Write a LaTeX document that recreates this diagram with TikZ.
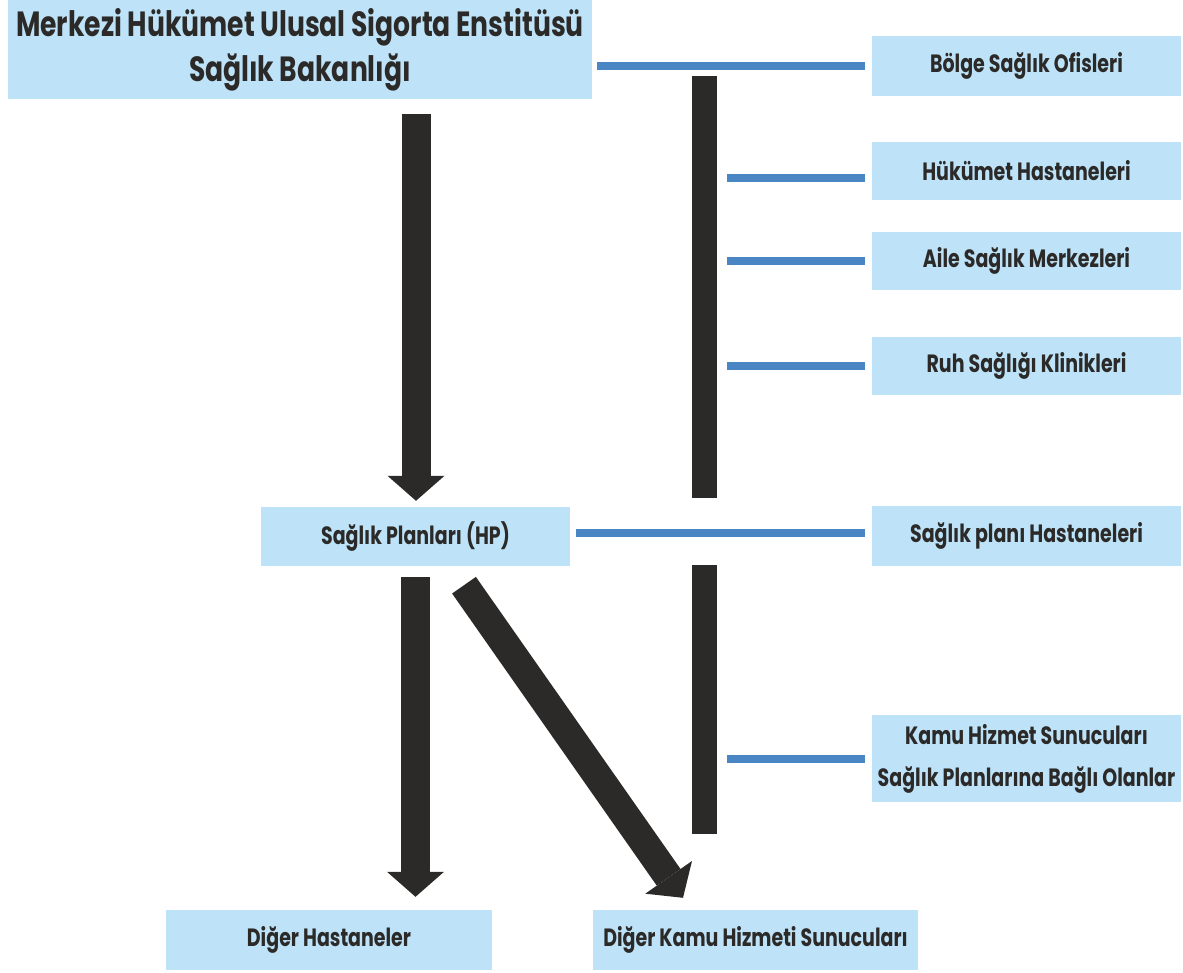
\documentclass[tikz,border=0pt]{standalone}
\usepackage{fontspec}
\setmainfont{Poppins}[FakeStretch=0.76]
\usetikzlibrary{arrows.meta,calc}

\definecolor{boxblue}{HTML}{BEE3F8}
\definecolor{linkblue}{HTML}{4A86C4}
\definecolor{ink}{HTML}{2B2A28}

\tikzset{
  unit/.style={fill=boxblue, draw=none, inner sep=0pt, align=center,
    text=ink, font=\bfseries\fontsize{25}{40}\selectfont},
  sidebox/.style={unit, minimum width=309pt, minimum height=58pt},
  titlebox/.style={unit, minimum width=584pt, minimum height=99pt,
    font=\bfseries\fontsize{35}{45}\selectfont},
  bar/.style={fill=ink, draw=none, inner sep=0pt, minimum width=25pt},
  link/.style={draw=linkblue, line width=8pt},
  bigarrow/.style={draw=ink, line width=29pt,
    -{Triangle[length=25pt,width=57pt,line width=0pt]}}
}

\begin{document}
\begin{tikzpicture}[x=1pt,y=-1pt]
\useasboundingbox (0,0) rectangle (1183,972);

% central ministry
\node[titlebox] (top) at (300,49.5)
  {Merkezi Hükümet Ulusal Sigorta Enstitüsü\\Sağlık Bakanlığı};

% public network on the right
\node[sidebox, minimum height=60pt] (bolge) at (1026.5,66) {Bölge Sağlık Ofisleri};
\node[sidebox] (hh)   at (1026.5,171) {Hükümet Hastaneleri};
\node[sidebox] (aile) at (1026.5,261) {Aile Sağlık Merkezleri};
\node[sidebox] (ruh)  at (1026.5,366) {Ruh Sağlığı Klinikleri};
\node[sidebox, minimum height=60pt] (sph) at (1026.5,536) {Sağlık planı Hastaneleri};
\node[sidebox, minimum height=87pt, font=\bfseries\fontsize{25}{42}\selectfont]
  (kamu) at (1026.5,758.5) {Kamu Hizmet Sunucuları\\Sağlık Planlarına Bağlı Olanlar};

% health plans and their providers
\node[sidebox, minimum height=59pt] (hp) at (415.5,536.5) {Sağlık Planları (HP)};
\node[sidebox, minimum width=326pt, minimum height=60pt] (dh) at (329,940) {Diğer Hastaneler};
\node[sidebox, minimum width=325pt, minimum height=60pt] (dk) at (755.5,940) {Diğer Kamu Hizmeti Sunucuları};

% vertical spines
\node[bar, minimum height=422pt] (bar1) at (704.5,287) {};
\node[bar, minimum height=269pt] (bar2) at (704.5,699.5) {};

% blue branch lines
\draw[link] ([xshift=5pt]top.east |- bolge.west) -- ([xshift=-7pt]bolge.west);
\draw[link] ([xshift=10pt,yshift=-7pt]bar1.east |- hh.west) -- ([xshift=-7pt,yshift=-7pt]hh.west);
\draw[link] ([xshift=10pt]bar1.east |- aile.west) -- ([xshift=-7pt]aile.west);
\draw[link] ([xshift=10pt]bar1.east |- ruh.west)  -- ([xshift=-7pt]ruh.west);
\draw[link] ([xshift=6pt,yshift=3pt]hp.east |- sph.west) -- ([xshift=-7pt,yshift=3pt]sph.west);
\draw[link] ([xshift=10pt]bar2.east |- kamu.west) -- ([xshift=-7pt]kamu.west);

% thick flow arrows
\draw[bigarrow] ($(top.south)+(116,15)$) -- ($(hp.north)+(0.5,-6)$);
\draw[bigarrow] ($(hp.south)+(0,11)$) -- ($(dh.north)+(86.5,-13)$);
\draw[bigarrow] ($(hp.south)+(48.5,19)$) -- ($(dk.north)+(-72.5,-12)$);
\end{tikzpicture}
\end{document}
